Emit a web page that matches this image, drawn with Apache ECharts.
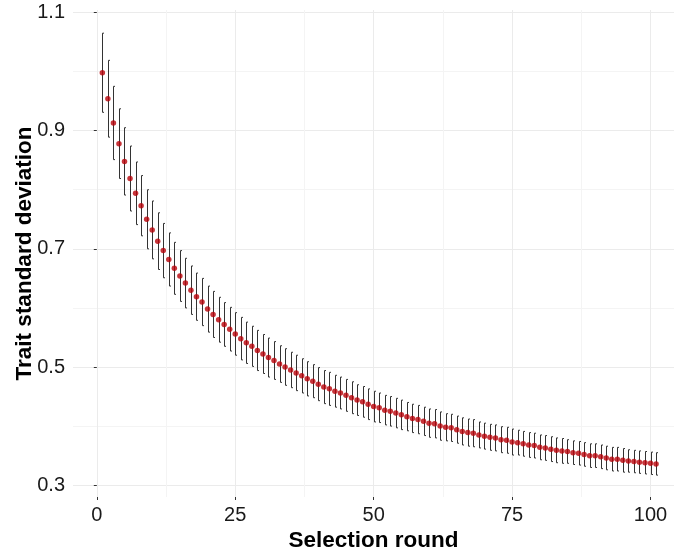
<!DOCTYPE html>
<html>
<head>
    <meta charset="UTF-8">
    <title>Trait standard deviation</title>
    <script src="https://cdn.jsdelivr.net/npm/echarts@6/dist/echarts.min.js"></script>
    <style>
        html, body { margin: 0; padding: 0; background: #fff; }
        #chart { width: 674px; height: 552px; }
    </style>
</head>
<body>
<div id="chart"></div>
<script>
    // selection rounds 1..101
    var rounds = [];
    for (var r = 1; r <= 101; r++) rounds.push(r);

    // mean trait SD per round
    var sdMean = [
        0.998, 0.954, 0.913, 0.878, 0.848, 0.819, 0.794, 0.773, 0.750, 0.732,
        0.713, 0.697, 0.682, 0.667, 0.654, 0.642, 0.630, 0.619, 0.610, 0.598,
        0.589, 0.580, 0.572, 0.564, 0.556, 0.548, 0.541, 0.535, 0.528, 0.522,
        0.516, 0.511, 0.505, 0.500, 0.495, 0.490, 0.485, 0.480, 0.476, 0.471,
        0.466, 0.463, 0.459, 0.456, 0.452, 0.448, 0.444, 0.441, 0.437, 0.433,
        0.431, 0.427, 0.425, 0.422, 0.419, 0.416, 0.413, 0.411, 0.408, 0.405,
        0.404, 0.400, 0.398, 0.397, 0.394, 0.391, 0.389, 0.388, 0.385, 0.383,
        0.381, 0.380, 0.377, 0.376, 0.373, 0.372, 0.370, 0.368, 0.367, 0.364,
        0.363, 0.361, 0.359, 0.358, 0.357, 0.355, 0.354, 0.352, 0.350, 0.350,
        0.348, 0.346, 0.344, 0.344, 0.342, 0.341, 0.340, 0.339, 0.338, 0.337,
        0.336
    ];

    // half length of each error bar
    var sdErr = [
        0.067, 0.065, 0.062, 0.059, 0.057, 0.055, 0.053, 0.051, 0.050, 0.049,
        0.048, 0.046, 0.045, 0.044, 0.043, 0.042, 0.041, 0.040, 0.040, 0.039,
        0.039, 0.038, 0.037, 0.037, 0.036, 0.036, 0.035, 0.034, 0.034, 0.033,
        0.033, 0.032, 0.031, 0.031, 0.030, 0.030, 0.029, 0.029, 0.028, 0.028,
        0.028, 0.028, 0.027, 0.027, 0.027, 0.027, 0.026, 0.026, 0.026, 0.026,
        0.025, 0.025, 0.025, 0.025, 0.025, 0.024, 0.024, 0.024, 0.024, 0.024,
        0.024, 0.024, 0.023, 0.023, 0.023, 0.023, 0.023, 0.023, 0.022, 0.022,
        0.022, 0.022, 0.022, 0.022, 0.022, 0.021, 0.021, 0.021, 0.021, 0.021,
        0.021, 0.021, 0.021, 0.021, 0.020, 0.020, 0.020, 0.020, 0.020, 0.020,
        0.020, 0.020, 0.020, 0.020, 0.020, 0.019, 0.019, 0.019, 0.019, 0.019,
        0.019
    ];

    var xTicks = [0, 25, 50, 75, 100];
    var xMinor = [12.5, 37.5, 62.5, 87.5];
    var yTicks = [0.3, 0.5, 0.7, 0.9, 1.1];
    var yMinor = [0.4, 0.6, 0.8, 1.0];

    var font = 'Liberation Sans, Arial, sans-serif';
    var xMin = -4.3, xMax = 104.24, yMin = 0.28, yMax = 1.1042;

    var points = rounds.map(function (x, i) { return [x, sdMean[i]]; });
    var bars = rounds.map(function (x, i) {
        return [x, sdMean[i] - sdErr[i], sdMean[i] + sdErr[i]];
    });

    var chart = echarts.init(document.getElementById('chart'), null, { renderer: 'canvas' });

    var option = {
        animation: false,
        backgroundColor: '#fff',
        grid: { left: 73, right: 0, top: 10, bottom: 55, outerBoundsMode: 'none', containLabel: false },
        xAxis: [{
            type: 'value',
            min: xMin, max: xMax,
            name: 'Selection round',
            nameLocation: 'middle',
            nameGap: 32,
            nameMoveOverlap: false,
            nameTextStyle: { fontFamily: font, fontSize: 22.5, fontWeight: 'bold', color: '#000' },
            axisLine: { show: false },
            axisTick: { show: true, length: 3, lineStyle: { color: '#333' }, customValues: xTicks },
            axisLabel: { fontFamily: font, fontSize: 20, color: '#1a1a1a', margin: 8, customValues: xTicks },
            splitLine: { show: true, lineStyle: { color: '#EBEBEB', width: 1 } }
        }, {
            type: 'value',
            position: 'top',
            min: xMin, max: xMax,
            axisLine: { show: false },
            axisTick: { show: false, customValues: xMinor },
            axisLabel: { show: false, customValues: xMinor },
            splitLine: { show: true, lineStyle: { color: '#F4F4F4', width: 1 } }
        }],
        yAxis: [{
            type: 'value',
            min: yMin, max: yMax,
            name: 'Trait standard deviation',
            nameLocation: 'middle',
            nameGap: 37,
            nameMoveOverlap: false,
            nameTextStyle: { fontFamily: font, fontSize: 22.5, fontWeight: 'bold', color: '#000' },
            axisLine: { show: false },
            axisTick: { show: true, length: 3, lineStyle: { color: '#333' }, customValues: yTicks },
            axisLabel: {
                fontFamily: font, fontSize: 20, color: '#1a1a1a', margin: 8,
                customValues: yTicks,
                formatter: function (v) { return v.toFixed(1); }
            },
            splitLine: { show: true, lineStyle: { color: '#EBEBEB', width: 1 } }
        }, {
            type: 'value',
            position: 'right',
            min: yMin, max: yMax,
            axisLine: { show: false },
            axisTick: { show: false, customValues: yMinor },
            axisLabel: { show: false, customValues: yMinor },
            splitLine: { show: true, lineStyle: { color: '#F4F4F4', width: 1 } }
        }],
        series: [{
            type: 'custom',
            name: 'error',
            data: bars,
            encode: { x: 0, y: [1, 2] },
            renderItem: function (params, api) {
                var lo = api.coord([api.value(0), api.value(1)]);
                var hi = api.coord([api.value(0), api.value(2)]);
                var x = Math.round(lo[0]) + 0.5;
                return {
                    type: 'group',
                    children: [{
                        type: 'line',
                        shape: { x1: x, y1: hi[1], x2: x, y2: lo[1] },
                        style: { stroke: '#333', lineWidth: 1 }
                    }, {
                        type: 'line',
                        shape: { x1: x, y1: hi[1], x2: x + 1.5, y2: hi[1] },
                        style: { stroke: '#333', lineWidth: 1 }
                    }, {
                        type: 'line',
                        shape: { x1: x, y1: lo[1], x2: x + 1.5, y2: lo[1] },
                        style: { stroke: '#333', lineWidth: 1 }
                    }]
                };
            },
            z: 2
        }, {
            type: 'scatter',
            name: 'mean',
            data: points,
            symbol: 'circle',
            symbolSize: 5.5,
            itemStyle: { color: '#B80008' },
            z: 3
        }]
    };

    chart.setOption(option);
</script>
</body>
</html>
